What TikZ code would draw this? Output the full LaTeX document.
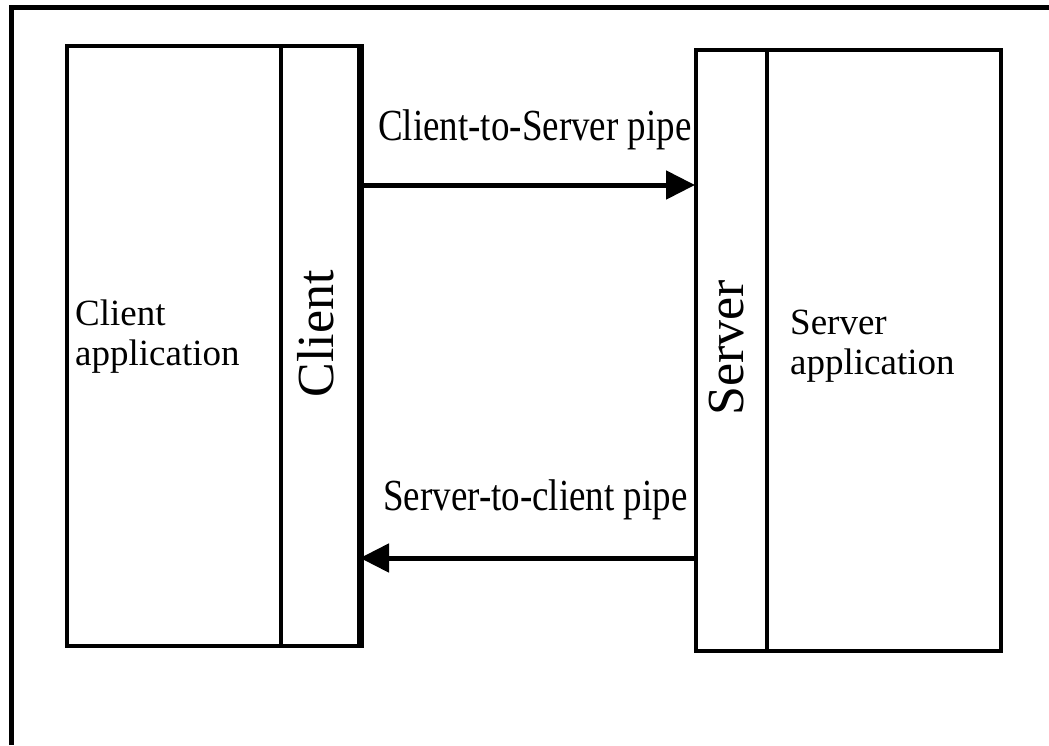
\documentclass[tikz,border=0pt]{standalone}
\usepackage{fontspec}
\setmainfont{Liberation Serif}
\usetikzlibrary{arrows.meta}
\begin{document}
\begin{tikzpicture}[x=1pt,y=-1pt,
  box/.style={draw, line width=4pt, inner sep=0pt, anchor=north west},
  lab/.style={inner sep=0pt, font=\fontsize{37}{40}\selectfont},
  applab/.style={inner sep=0pt, align=left, anchor=base west, font=\fontsize{37}{40}\selectfont},
  vlab/.style={inner sep=0pt, rotate=90, anchor=base, font=\fontsize{52}{56}\selectfont},
  arr/.style={line width=5pt, -{Triangle[length=29pt,width=28pt]}, shorten >=-1pt}]
\useasboundingbox (0,0) rectangle (1049,745);
% frame
\draw[line width=4.5pt] (11.5,745) -- (11.5,7.5) -- (1049,7.5);
% client side
\node[box, minimum width=214pt, minimum height=600pt] (capp) at (65,44) {};
\node[box, minimum width=78pt, minimum height=600pt] (cl) at (279,44) {};
\draw[line width=5pt] (cl.north east) -- (cl.south east);
% server side
\node[box, minimum width=71pt, minimum height=601pt] (sv) at (694,48) {};
\node[box, minimum width=234pt, minimum height=601pt] (sapp) at (765,48) {};
% labels
\node[applab] (captxt) at (75,365) {Client\\application};
\node[applab] (saptxt) at (790,374) {Server\\application};
\node[vlab] (cltxt) at (333,334) {Client};
\node[vlab] (svtxt) at (743,348) {Server};
\node[lab, anchor=base west] (c2s) at (378,140) {\scalebox{1}[1.2]{Client-to-Server pipe}};
\node[lab, anchor=base west] (s2c) at (383,510) {\scalebox{1}[1.2]{Server-to-client pipe}};
% arrows
\coordinate (ya) at (0,185);
\coordinate (yb) at (0,558);
\draw[arr] (cl.east |- ya) -- (sv.west |- ya);
\draw[arr] (sv.west |- yb) -- (cl.east |- yb);
\end{tikzpicture}
\end{document}
